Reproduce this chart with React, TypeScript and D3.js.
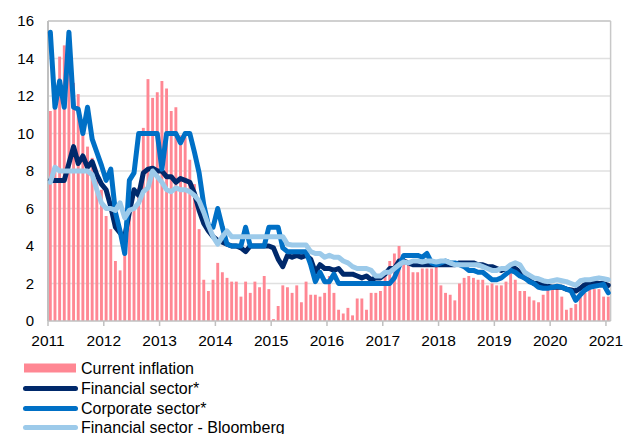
import React from 'react';
import * as d3 from 'd3';

// Monthly data Jan 2011 .. Jan 2021 (121 months)
const inflation = [
  11.2, 12.6, 14.1, 14.7, 13.4, 12.7, 12.1, 10.5, 9.3, 8.7, 7.7, 7.0,
  5.6, 4.9, 3.2, 2.7, 3.9, 5.5, 6.1, 7.1, 10.3, 12.9, 11.9, 12.2,
  12.8, 12.4, 11.2, 11.4, 9.9, 9.8, 8.6, 7.3, 4.9, 2.2, 1.6, 2.2,
  3.1, 2.6, 2.3, 2.1, 2.1, 1.3, 2.1, 1.5, 2.1, 1.8, 2.4, 1.7,
  0.1, 0.8, 1.9, 1.8, 1.5, 1.9, 1.0, 2.1, 1.4, 1.4, 1.3, 1.5,
  2.4, 1.5, 0.6, 0.4, 0.7, 0.3, 1.2, 1.2, 0.6, 1.5, 1.5, 1.6,
  2.4, 3.2, 3.6, 4.0, 3.5, 3.0, 2.6, 2.6, 2.8, 2.8, 2.8, 3.0,
  1.9, 1.5, 1.4, 1.1, 2.0, 2.3, 2.4, 2.3, 2.2, 2.2, 1.9, 2.0,
  1.9, 1.9, 2.1, 3.1, 2.2, 1.6, 1.6, 1.3, 1.1, 1.0, 1.4, 1.9,
  1.9, 1.8, 1.3, 0.6, 0.7, 0.9, 1.3, 1.5, 1.7, 1.7, 1.7, 1.3,
  1.3,
];

const financial = [
  7.5, 7.5, 7.5, 7.5, 8.4, 9.3, 8.4, 8.8, 8.2, 8.5, 7.8, 7.3,
  7.0, 6.1, 5.0, 4.7, 4.5, 5.8, 7.0, 6.7, 7.9, 8.1, 8.15, 8.0,
  8.0, 7.7, 7.7, 7.4, 7.6, 7.5, 7.4, 6.8, 5.9, 5.2, 4.8, 4.5,
  4.3, 4.2, 4.1, 4.0, 4.0, 3.9, 3.7, 4.0, 4.0, 4.0, 4.0, 4.0,
  3.9, 3.3, 2.9, 3.5, 3.4, 3.5, 3.4, 3.5, 3.3, 2.6, 3.0, 2.8,
  2.8, 2.7, 2.8, 2.5, 2.5, 2.5, 2.4, 2.3, 2.4, 2.2, 2.3, 2.3,
  2.5, 2.8, 2.8, 3.2, 3.2, 3.1, 3.0, 3.0, 3.0, 3.0, 3.0, 3.0,
  3.0, 3.0, 3.0, 3.0, 3.1, 3.1, 3.1, 3.1, 3.0, 3.0, 2.9, 2.9,
  2.8, 2.7, 2.8, 2.9, 2.8, 2.6, 2.3, 2.2, 2.0, 2.0, 1.9, 1.85,
  1.8, 1.8, 1.8, 1.7, 1.65, 1.6, 1.75, 1.95, 2.0, 2.05, 2.0, 2.0,
  1.9,
];

const corporate = [
  15.4, 11.4, 12.8, 11.4, 15.4, 11.4, 11.3, 10.0, 11.4, 9.7, 9.0, 8.3,
  7.5, 8.1, 5.8, 4.8, 3.6, 7.5, 7.9, 10.0, 10.0, 10.0, 10.0, 10.0,
  8.1, 10.0, 10.0, 10.0, 9.5, 10.0, 10.0, 9.0, 7.9, 6.2, 5.1, 5.0,
  6.0, 5.0, 4.1, 4.0, 4.0, 4.0, 5.0, 4.0, 4.0, 4.0, 4.0, 5.0,
  5.0, 5.0, 3.9, 3.7, 3.7, 3.7, 3.7, 3.7, 3.0, 2.1, 2.6, 2.1,
  2.1, 2.5, 2.0, 2.0, 2.0, 2.0, 2.0, 2.0, 2.0, 2.0, 2.0, 2.0,
  2.0, 2.0, 2.3, 2.9, 3.5, 3.5, 3.5, 3.5, 3.4, 3.6, 3.1, 3.0,
  3.1, 3.2, 3.1, 3.1, 3.0, 2.9, 2.7, 2.7, 2.6, 2.6, 2.4, 2.2,
  2.2, 2.3, 2.5, 2.7, 2.6, 2.4, 2.3, 2.1, 2.0, 1.8, 1.75, 1.75,
  1.8, 1.85, 1.8, 1.7, 1.6, 1.1, 1.4, 1.65, 1.8, 1.85, 1.9, 1.95,
  1.5,
];

const bloomberg = [
  7.4, 8.2, 8.0, 8.0, 8.0, 8.0, 8.0, 8.0, 8.0, 7.8, 7.0, 6.3,
  6.0, 6.0, 5.9, 6.3, 5.5, 5.9, 6.0, 6.3, 6.9, 7.1, 8.0, 7.7,
  7.4, 7.0, 6.9, 7.1, 7.0, 7.0, 6.9, 6.7, 6.4, 5.8, 5.1, 4.5,
  4.1, 4.5, 4.8, 4.5, 4.5, 4.5, 4.5, 4.5, 4.5, 4.5, 4.5, 4.5,
  4.5, 4.5, 4.5, 4.1, 4.05, 4.05, 4.05, 4.05, 3.7, 3.6, 3.6, 3.4,
  3.5, 3.4, 3.4, 3.2, 3.1, 2.9, 2.8, 2.8, 2.8, 2.7, 2.4, 2.4,
  2.6, 2.6, 2.8, 3.0, 3.15, 3.1, 3.2, 3.2, 3.15, 3.2, 3.2, 3.15,
  3.2, 3.2, 3.1, 3.0, 3.0, 3.0, 3.0, 3.0, 3.0, 2.9, 2.8, 2.7,
  2.7, 2.8, 2.8, 3.0, 3.1, 3.0, 2.6, 2.45, 2.3, 2.25, 2.15, 2.1,
  2.15, 2.2, 2.15, 2.1, 2.0, 1.9, 2.15, 2.2, 2.2, 2.25, 2.3, 2.25,
  2.2,
];

const yTicks = [0, 2, 4, 6, 8, 10, 12, 14, 16];
const yearLabels = ['2011', '2012', '2013', '2014', '2015', '2016', '2017', '2018', '2019', '2020', '2021'];
const legendLabels = ['Current inflation', 'Financial sector*', 'Corporate sector*', 'Financial sector - Bloomberg'];

const PINK = '#ff8793';
const NAVY = '#00296b';
const MID = '#0070c6';
const LIGHT = '#9ccaea';
const FONT = '"Liberation Sans", Arial, sans-serif';

export default function App() {
  const W = 625, H = 434;
  const left = 48, right = 610.6, top = 21, bottom = 321;
  const months = d3.range(inflation.length);
  const x = d3.scaleBand<number>().domain(months).range([left, right]).paddingInner(0.38).paddingOuter(0.19);
  const y = d3.scaleLinear().domain([0, 16]).range([bottom, top]);
  const step = x.step();
  const cx = (i: number) => (x(i) as number) + x.bandwidth() / 2;
  const line = d3.line<number>().x((_, i) => cx(i)).y((d) => y(d));

  const series = [
    { data: financial, color: NAVY },
    { data: corporate, color: MID },
    { data: bloomberg, color: LIGHT },
  ];
  const legendColors = [PINK, NAVY, MID, LIGHT];
  const legendY = [368, 388.5, 408.5, 427.5];

  return (
    <svg width={W} height={H} style={{ position: 'absolute', left: 0, top: 0, background: '#fff' }} fontFamily={FONT}>
      {/* gridlines */}
      {yTicks.filter((t) => t > 0).map((t) => (
        <line key={t} x1={left} x2={right} y1={y(t)} y2={y(t)} stroke="#e0e0e0" strokeWidth={1.5} />
      ))}
      {/* bars */}
      {inflation.map((v, i) => (
        <rect key={i} x={x(i)} y={y(v)} width={x.bandwidth()} height={bottom - y(v)} fill={PINK} />
      ))}
      {/* frame */}
      <line x1={left} x2={right} y1={top} y2={top} stroke="#c8c8c8" strokeWidth={1.5} />
      <line x1={right} x2={right} y1={top} y2={bottom} stroke="#c8c8c8" strokeWidth={1.5} />
      <line x1={left} x2={left} y1={top} y2={bottom} stroke="#c0c0c0" strokeWidth={2} />
      <line x1={left} x2={right} y1={bottom} y2={bottom} stroke="#c0c0c0" strokeWidth={1.5} />
      {yearLabels.map((lab, k) => {
        const tx = left + step * 12 * k;
        return (
          <g key={lab}>
            <line x1={tx} x2={tx} y1={bottom} y2={bottom + 5} stroke="#c0c0c0" strokeWidth={1.5} />
            <text x={tx} y={346} textAnchor="middle" fontSize={15.5} fill="#000">{lab}</text>
          </g>
        );
      })}
      {yTicks.map((t) => (
        <text key={t} x={34} y={y(t)} dy="0.36em" textAnchor="end" fontSize={15} fill="#000">{t}</text>
      ))}
      {/* lines */}
      {series.map((s, k) => (
        <path key={k} d={line(s.data) as string} fill="none" stroke={s.color} strokeWidth={5} strokeLinejoin="round" strokeLinecap="round" />
      ))}
      {/* legend */}
      {legendLabels.map((lab, k) => (
        <g key={lab}>
          {k === 0 ? (
            <rect x={24} y={legendY[k] - 4.5} width={52} height={9} fill={legendColors[k]} />
          ) : (
            <line x1={25.5} x2={75.5} y1={legendY[k]} y2={legendY[k]} stroke={legendColors[k]} strokeWidth={5} strokeLinecap="round" />
          )}
          <text x={81} y={legendY[k]} dy="0.36em" fontSize={16} fill="#000">{lab}</text>
        </g>
      ))}
    </svg>
  );
}
